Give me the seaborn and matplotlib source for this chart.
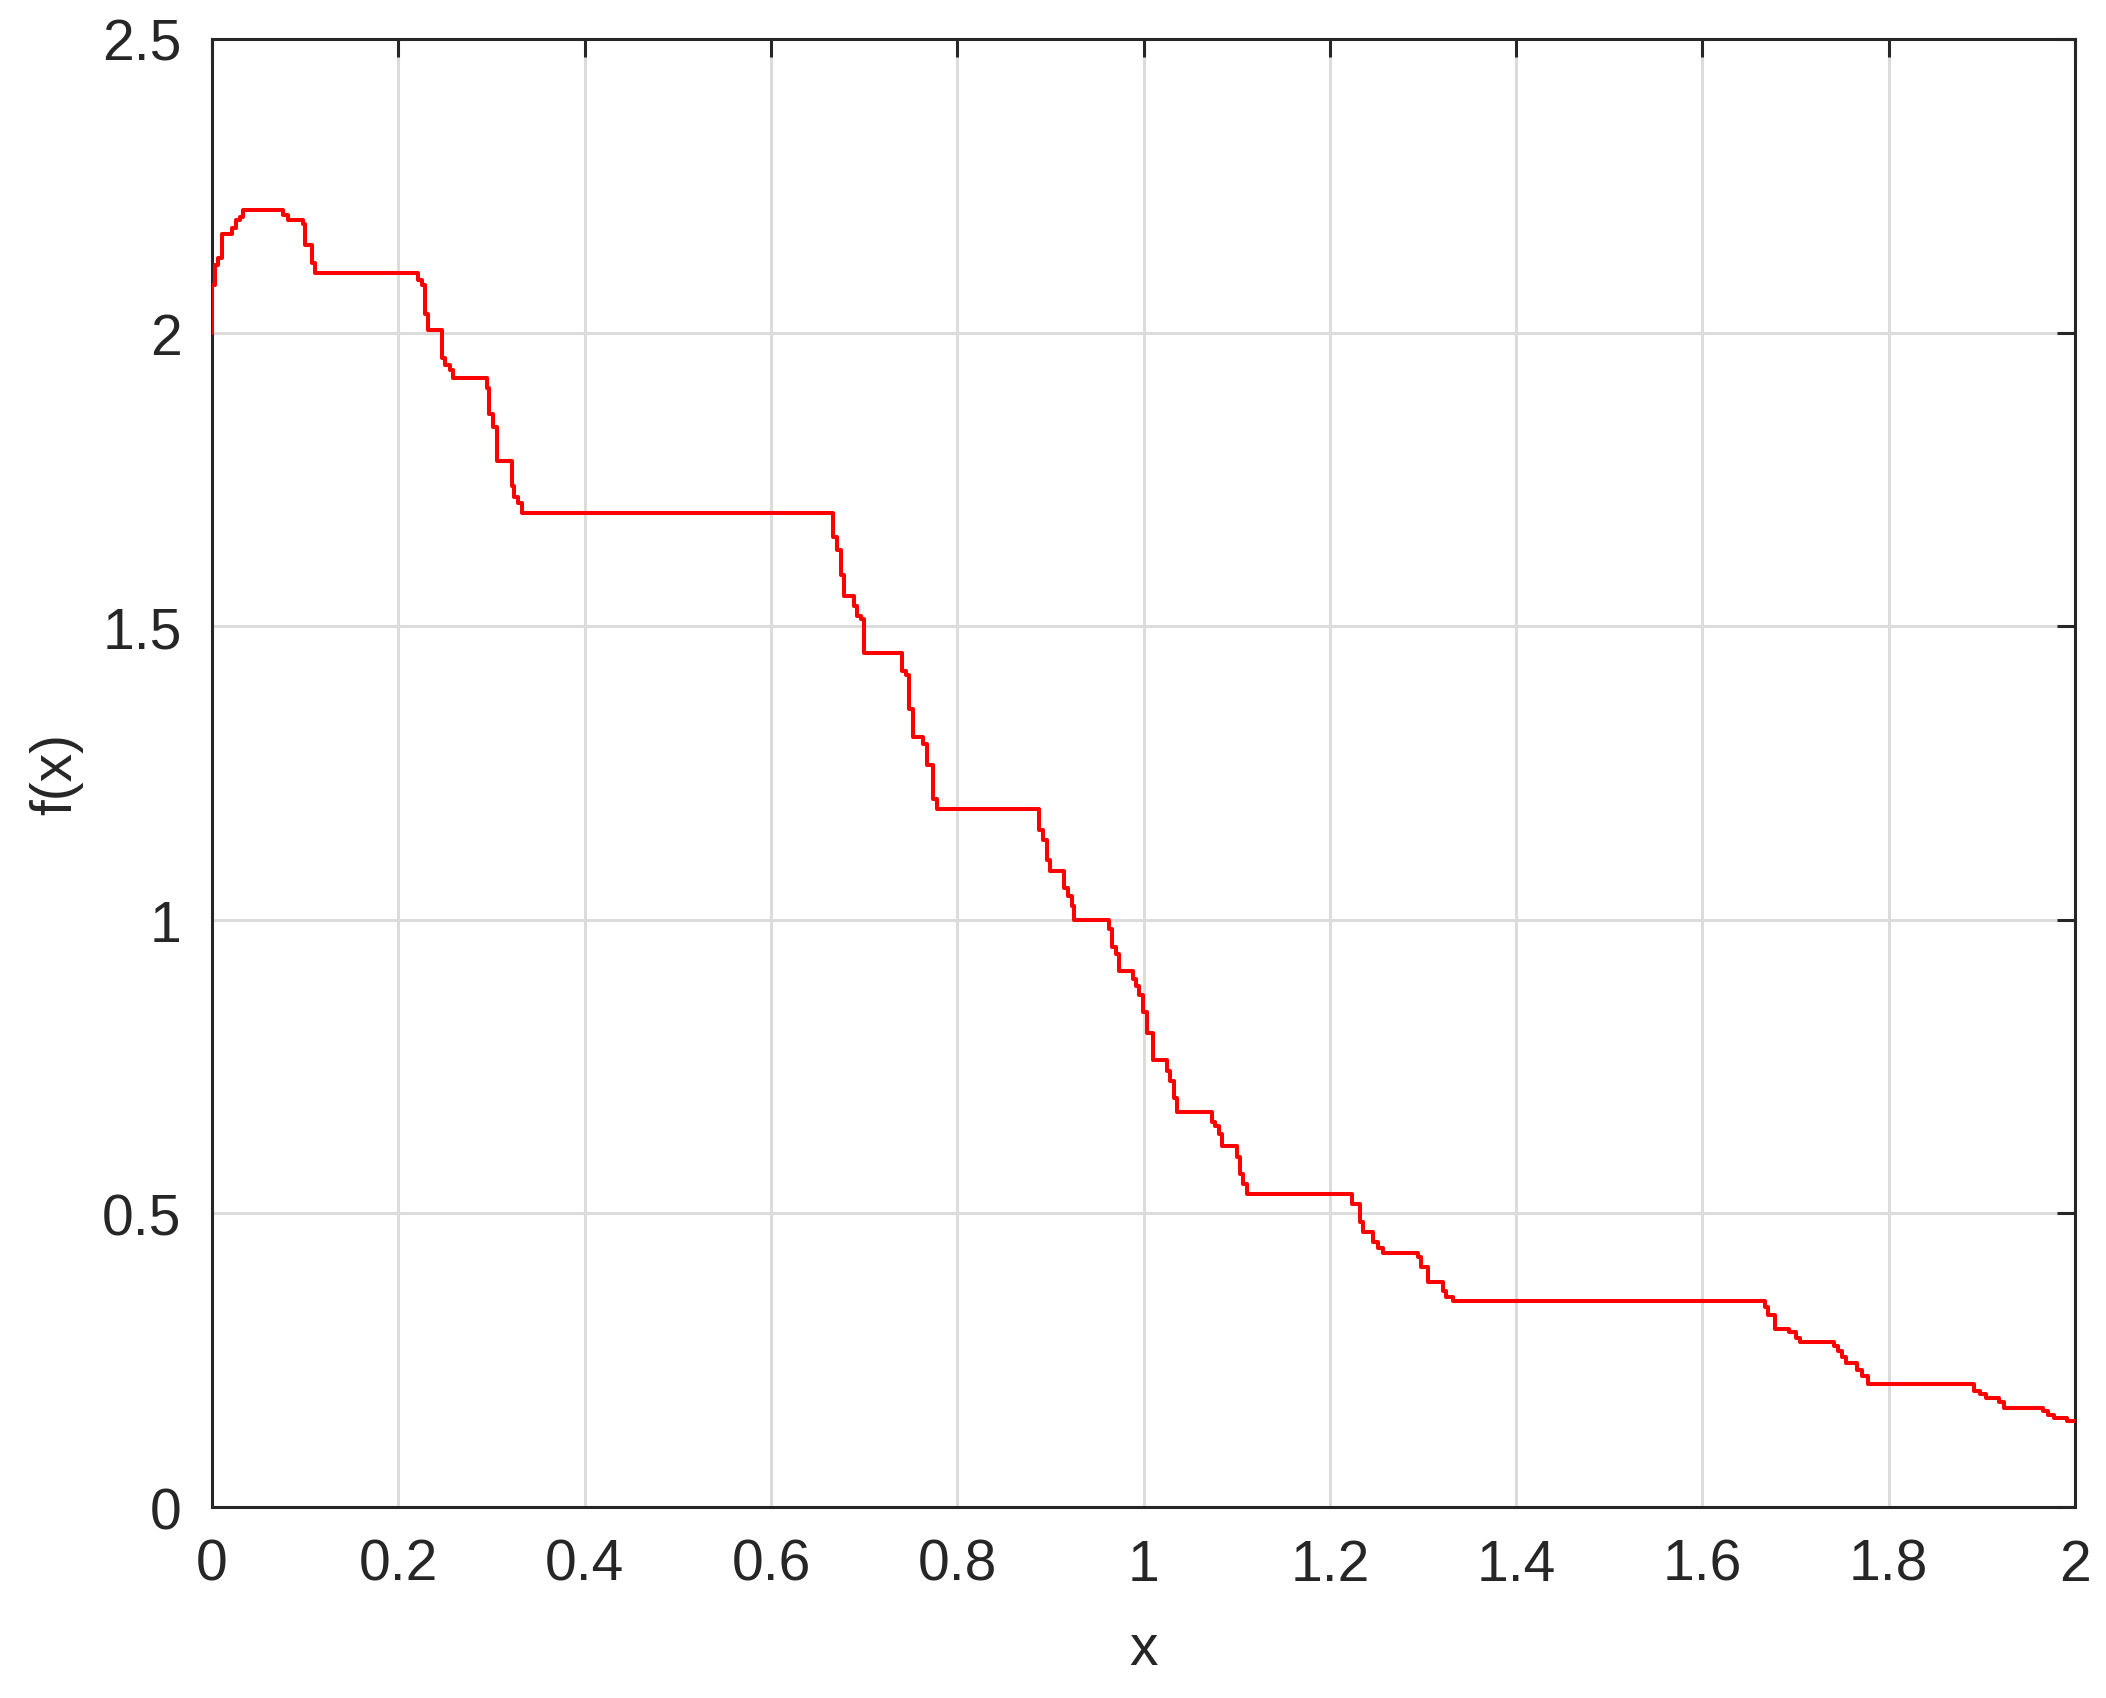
import seaborn as sns
import matplotlib.pyplot as plt
import pandas as pd

# Estilo general
sns.set_style('white')
plt.rcParams['font.family'] = ['Liberation Sans', 'DejaVu Sans']

# Puntos de inicio de cada escalón (x) y su nivel (f(x))
x_steps = [
    0.0, 0.0, 0.0032, 0.0068, 0.0104, 0.0218, 0.0254, 0.0300, 0.0336, 0.0766,
    0.0820, 0.0980, 0.0998, 0.1070, 0.1106, 0.2215, 0.2251, 0.2287, 0.2322, 0.2466,
    0.2500, 0.2555, 0.2591, 0.2949, 0.2977, 0.3020, 0.3056, 0.3217, 0.3242, 0.3289,
    0.3324, 0.6670, 0.6710, 0.6750, 0.6780, 0.6896, 0.6928, 0.6967, 0.7003, 0.7411,
    0.7450, 0.7486, 0.7529, 0.7630, 0.7672, 0.7744, 0.7780, 0.8882, 0.8925, 0.8962,
    0.8996, 0.9147, 0.9186, 0.9229, 0.9257, 0.9633, 0.9662, 0.9705, 0.9740, 0.9884,
    0.9920, 0.9955, 0.9998, 1.0034, 1.0106, 1.0249, 1.0285, 1.0328, 1.0363, 1.0732,
    1.0768, 1.0814, 1.0846, 1.1000, 1.1036, 1.1072, 1.1108, 1.2242, 1.2324, 1.2360,
    1.2467, 1.2521, 1.2568, 1.2950, 1.2980, 1.3058, 1.3212, 1.3248, 1.3320, 1.6672,
    1.6708, 1.6780, 1.6933, 1.7005, 1.7048, 1.7416, 1.7459, 1.7495, 1.7542, 1.7663,
    1.7710, 1.7780, 1.8916, 1.8980, 1.9040, 1.9184, 1.9238, 1.9660, 1.9713, 1.9775,
    1.9910, 2.0,
]
f_steps = [
    2.000, 2.081, 2.115, 2.127, 2.167, 2.178, 2.191, 2.197, 2.208, 2.200,
    2.191, 2.184, 2.149, 2.118, 2.102, 2.090, 2.081, 2.032, 2.004, 1.956,
    1.944, 1.936, 1.922, 1.905, 1.862, 1.839, 1.781, 1.739, 1.720, 1.709,
    1.692, 1.652, 1.629, 1.587, 1.551, 1.534, 1.518, 1.513, 1.455, 1.423,
    1.416, 1.359, 1.312, 1.300, 1.264, 1.206, 1.189, 1.153, 1.136, 1.101,
    1.083, 1.054, 1.041, 1.024, 1.000, 0.9835, 0.9545, 0.942, 0.9126, 0.8995,
    0.888, 0.872, 0.8427, 0.807, 0.7604, 0.7433, 0.7263, 0.6962, 0.6735, 0.6564,
    0.6496, 0.6354, 0.6145, 0.5957, 0.5673, 0.5503, 0.533, 0.516, 0.486, 0.468,
    0.451, 0.4407, 0.4327, 0.4254, 0.4094, 0.3828, 0.3685, 0.3572, 0.3504, 0.340,
    0.327, 0.3032, 0.2976, 0.2874, 0.2806, 0.2748, 0.2663, 0.255, 0.2453, 0.2339,
    0.2237, 0.2100, 0.1982, 0.1925, 0.1857, 0.1783, 0.1687, 0.164, 0.1567, 0.151,
    0.146, 0.146,
]

x_ticks = [0, 0.2, 0.4, 0.6, 0.8, 1, 1.2, 1.4, 1.6, 1.8, 2]
x_ticklabels = ['0', '0.2', '0.4', '0.6', '0.8', '1', '1.2', '1.4', '1.6', '1.8', '2']
y_ticks = [0, 0.5, 1, 1.5, 2, 2.5]
y_ticklabels = ['0', '0.5', '1', '1.5', '2', '2.5']

df = pd.DataFrame({'x': x_steps, 'f': f_steps})

fig = plt.figure(figsize=(10.53, 8.495), dpi=200)
ax = fig.add_axes([0.1007, 0.1124, 0.8846, 0.8641])

sns.lineplot(
    data=df, x='x', y='f', ax=ax,
    estimator=None, sort=False,
    drawstyle='steps-post', color='#ff0000', linewidth=1.45, zorder=3,
)

ax.set_xlim(0, 2)
ax.set_ylim(0, 2.5)
ax.set_xticks(x_ticks)
ax.set_xticklabels(x_ticklabels)
ax.set_yticks(y_ticks)
ax.set_yticklabels(y_ticklabels)

# Rejilla y marco al estilo MATLAB
ax.grid(True, color='#dcdcdc', linewidth=1.1)
ax.set_axisbelow(True)
for s in ax.spines.values():
    s.set_visible(True)
    s.set_color('#262626')
    s.set_linewidth(1.1)
ax.tick_params(direction='in', length=6.5, width=1.1, color='#262626',
               labelcolor='#262626', labelsize=20.5, pad=11,
               top=True, right=True)

ax.set_xlabel('x', fontsize=20.5, color='#262626')
ax.set_ylabel('f(x)', fontsize=20.5, color='#262626')
ax.xaxis.set_label_coords(0.5, -0.078)
ax.yaxis.set_label_coords(-0.069, 0.5)

fig.savefig('out.png', dpi=200)
